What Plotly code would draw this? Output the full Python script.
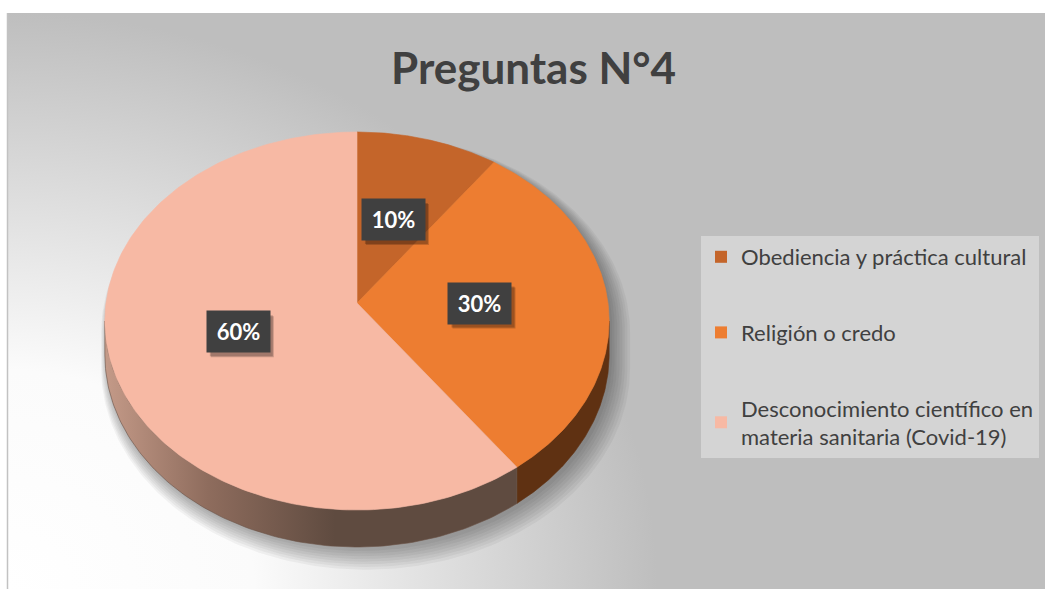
import numpy as np
import plotly.graph_objects as go

# ---------------- data ----------------
categories = ["Obediencia y práctica cultural",
              "Religión o credo",
              "Desconocimiento científico en materia sanitaria (Covid-19)"]
legend_labels = ["Obediencia y práctica cultural",
                 "Religión o credo",
                 "Desconocimiento científico en<br>materia sanitaria (Covid-19)"]
values = [10, 30, 60]
title_text = "Preguntas N°4"

# ---------------- style ----------------
top_colors = ["#C4652A", "#ED7D31", "#F7B9A4"]
side_colors = ["#7A3A14", "#5F3112", None]
side_gradient_60 = [[0, "#C49A88"], [0.45, "#8E6C5D"], [1, "#5F4B40"]]
FONT = "Lato"
W, H = 1045, 589

# projection of the tilted pie (pixel space on a 1:1 axis)
CX, CY = 357, 303
RX, RY = 251, 187.3
K = 0.0952
DEPTH = 33.5


def proj(theta, r=1.0):
    t = np.radians(theta)
    d = 1 + K * r * np.cos(t)
    return CX + RX * r * np.sin(t) / d, CY - RY * r * np.cos(t) / d


def thick(theta):
    return DEPTH / (1 + K * np.cos(np.radians(theta)))


total = float(sum(values))
bounds = np.concatenate([[0], np.cumsum(values)]) / total * 360.0
TH_R = float(np.degrees(np.arccos(-K)))      # right silhouette angle
TH_L = 360 - TH_R                            # left silhouette angle

fig = go.Figure()

# ---- background light gradient (bottom-left glow) ----
gx = [7, 657, 657, -643, -643, 7, 7]
gy = [13, 13, 1165, 1165, 600, 600, 13]
fig.add_trace(go.Scatter(
    x=gx, y=gy, mode="lines", fill="toself", line=dict(width=0),
    fillgradient=dict(type="radial",
                      colorscale=[[0, "#FFFFFF"], [0.38, "#FBFBFB"], [1, "#BEBEBE"]]),
    hoverinfo="skip", showlegend=False))

# ---- pie silhouette for the drop shadow ----
t_top = np.linspace(TH_L - 360, TH_R, 160)
t_bot = np.linspace(TH_R, TH_L, 160)
sx_top, sy_top = proj(t_top)
sx_bot, sy_bot = proj(t_bot)
sy_bot = sy_bot + thick(t_bot)
sil_x = np.concatenate([sx_top, sx_bot])
sil_y = np.concatenate([sy_top, sy_bot])
mx, my = CX, CY + 20
for i in range(8):
    s = 1 + 0.007 * i
    fig.add_trace(go.Scatter(
        x=mx + (sil_x - mx) * s + 3 + 0.8 * i,
        y=my + (sil_y - my) * s + 4 + 1.1 * i,
        mode="lines", fill="toself", line=dict(width=0),
        fillcolor="rgba(0,0,0,0.045)", hoverinfo="skip", showlegend=False))

# ---- sides of the slices ----
for i in range(len(values)):
    a = max(bounds[i], TH_R)
    b = min(bounds[i + 1], TH_L)
    if a >= b:
        continue
    tt = np.linspace(a, b, 120)
    xt, yt = proj(tt)
    xb, yb = proj(tt[::-1])
    yb = yb + thick(tt[::-1])
    px = np.concatenate([xt, xb, xt[:1]])
    py = np.concatenate([yt, yb, yt[:1]])
    if side_colors[i] is None:
        fig.add_trace(go.Scatter(
            x=px, y=py, mode="lines", fill="toself",
            line=dict(width=0.6, color="#6A5246"),
            fillgradient=dict(type="horizontal", colorscale=side_gradient_60,
                              start=105, stop=335),
            hoverinfo="skip", showlegend=False))
    else:
        fig.add_trace(go.Scatter(
            x=px, y=py, mode="lines", fill="toself",
            line=dict(width=0.6, color=side_colors[i]),
            fillcolor=side_colors[i], hoverinfo="skip", showlegend=False))

# ---- top faces ----
for i in range(len(values)):
    tt = np.linspace(bounds[i], bounds[i + 1], 200)
    xr, yr = proj(tt)
    px = np.concatenate([[CX], xr, [CX]])
    py = np.concatenate([[CY], yr, [CY]])
    fig.add_trace(go.Scatter(
        x=px, y=py, mode="lines", fill="toself",
        line=dict(width=0.6, color=top_colors[i]),
        fillcolor=top_colors[i], name=categories[i],
        hoverinfo="skip", showlegend=False))

# ---- legend entries ----
for i in range(len(values)):
    fig.add_trace(go.Scatter(
        x=[None], y=[None], mode="markers", name=legend_labels[i],
        legendgroup=f"g{i}",
        marker=dict(symbol="square", size=14, color=top_colors[i]),
        showlegend=True))

shapes = [
    dict(type="rect", xref="x", yref="y", x0=7, y0=13, x1=1045, y1=589,
         fillcolor="#BEBEBE", line=dict(width=0), layer="below"),
    dict(type="line", xref="x", yref="y", x0=7.5, y0=13, x1=7.5, y1=589,
         line=dict(color="#C2C2C2", width=1.5), layer="above"),
]

annotations = [dict(
    x=533, y=67, xref="x", yref="y", text=f"<b>{title_text}</b>",
    showarrow=False, font=dict(family=FONT, size=44, color="#404040"))]

bw, bh = 63, 41
for i, v in enumerate(values):
    mid = (bounds[i] + bounds[i + 1]) / 2
    lx, ly = proj(mid, 0.49)
    for j, (o, a) in enumerate([(4, 0.18), (3, 0.2)]):
        shapes.append(dict(
            type="rect", xref="x", yref="y",
            x0=lx - bw / 2 + o, x1=lx + bw / 2 + o,
            y0=ly - bh / 2 + o + 1, y1=ly + bh / 2 + o + 1,
            fillcolor=f"rgba(0,0,0,{a})", line=dict(width=0), layer="above"))
    annotations.append(dict(
        x=lx, y=ly, xref="x", yref="y",
        text=f"<b>{v / total * 100:.0f}%</b>", showarrow=False,
        width=bw, height=bh, bgcolor="#404040", borderpad=0,
        font=dict(family=FONT, size=22, color="#FFFFFF")))

fig.update_layout(
    width=W, height=H, autosize=False,
    margin=dict(l=0, r=0, t=0, b=0),
    paper_bgcolor="#FFFFFF", plot_bgcolor="#FFFFFF",
    xaxis=dict(range=[0, W], visible=False, fixedrange=True),
    yaxis=dict(range=[H, 0], visible=False, fixedrange=True),
    shapes=shapes, annotations=annotations,
    legend=dict(x=701 / W, y=1 - 236 / H, xanchor="left", yanchor="top",
                bgcolor="#D4D4D4", borderwidth=0, tracegroupgap=44,
                traceorder="grouped", itemsizing="constant",
                font=dict(family=FONT, size=22, color="#404040")),
    showlegend=True,
)

fig.write_html(
    "out.html",
    config={"displayModeBar": False},
    post_script="document.body.style.margin='0';"
                "document.body.style.overflow='hidden';")
